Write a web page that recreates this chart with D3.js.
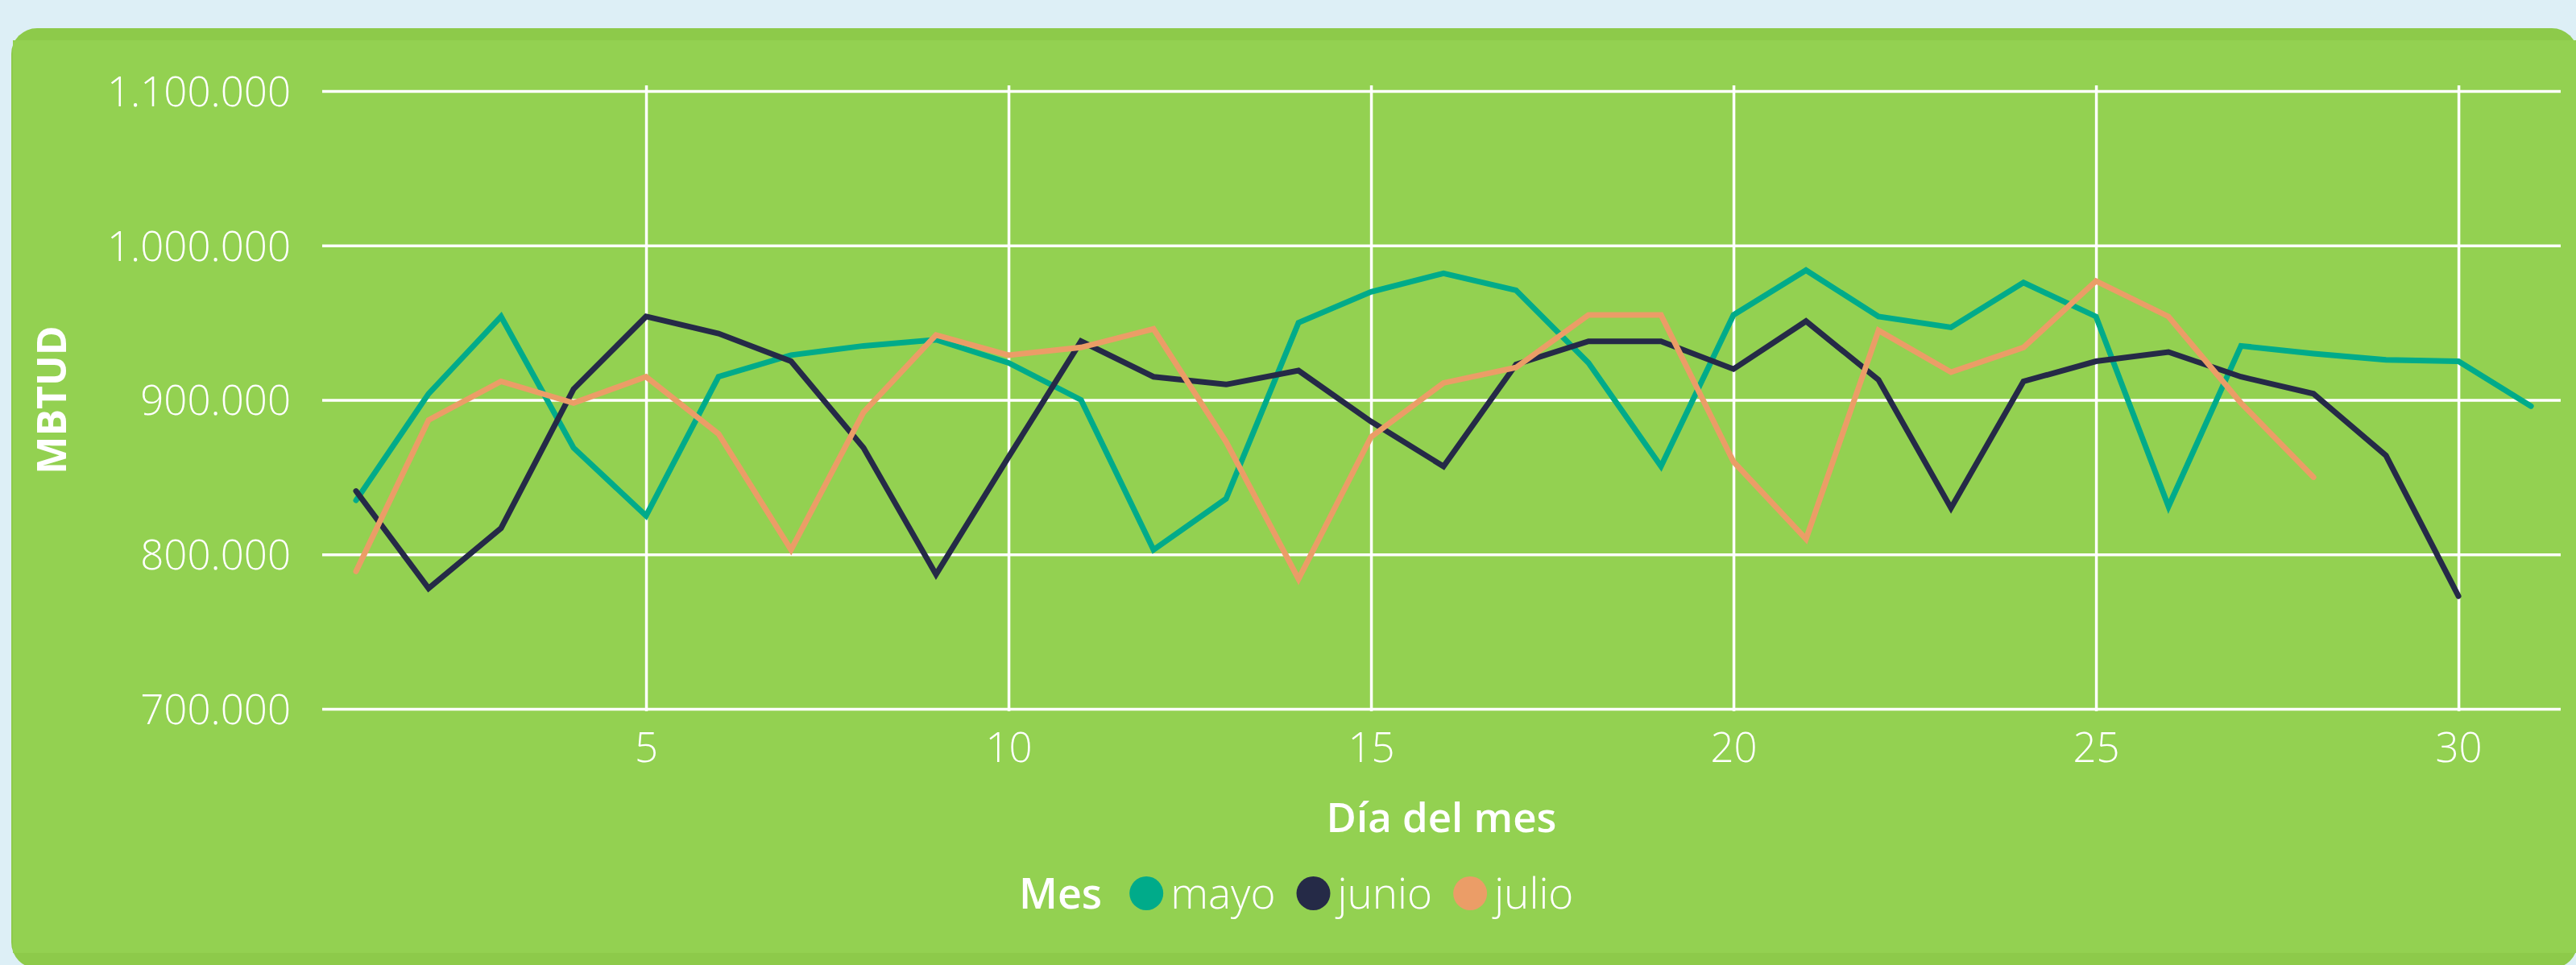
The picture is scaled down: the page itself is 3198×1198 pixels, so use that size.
<!DOCTYPE html>
<html>
<head>
<meta charset="utf-8">
<script src="https://cdn.jsdelivr.net/npm/d3@7"></script>
<style>
  html, body { margin: 0; padding: 0; background: #ddeff6; }
  svg { display: block; font-family: "Segoe UI", "Open Sans", sans-serif; }
</style>
</head>
<body>
<div id="wrapper"></div>
<script>
// days of the month
const dias = [1, 2, 3, 4, 5, 6, 7, 8, 9, 10, 11, 12, 13, 14, 15, 16, 17, 18, 19, 20,
  21, 22, 23, 24, 25, 26, 27, 28, 29, 30, 31];

// MBTUD per day
const mayo = [835000, 904000, 954000, 869000, 825000, 915000, 929000, 935000, 939000, 924000,
  900000, 803000, 836000, 950000, 970000, 982000, 971000, 924000, 857000, 955000,
  984000, 954000, 947000, 976000, 954000, 831000, 935000, 930000, 926000, 925000, 896000];
const junio = [841000, 778000, 817000, 907000, 954000, 943000, 925000, 869000, 787000, 863000,
  938000, 915000, 910000, 919000, 886000, 857000, 923000, 938000, 938000, 920000,
  951000, 913000, 830000, 912000, 925000, 931000, 915000, 904000, 864000, 773000];
const julio = [789000, 887000, 912000, 898000, 915000, 878000, 803000, 892000, 942000, 929000,
  934000, 946000, 873000, 784000, 876000, 911000, 921000, 955000, 955000, 860000,
  810000, 945000, 918000, 934000, 977000, 954000, 898000, 850000];

const meses = [`mayo`, `junio`, `julio`];
const colores = [`#00ab8a`, `#252a47`, `#eb9d67`];
const yTicks = [700000, 800000, 900000, 1000000, 1100000];
const xTicks = [5, 10, 15, 20, 25, 30];

const series = [mayo, junio, julio].map((vals, i) => ({
  mes: meses[i],
  color: colores[i],
  values: vals.map((v, j) => ({dia: dias[j], v}))
}));

const W = 3198, H = 1198;
const plot = {left: 400, right: 3179, top: 113, bottom: 880};
const fontFam = `"Segoe UI", "Open Sans", sans-serif`;

const svg = d3.select(`#wrapper`)
  .append(`svg`)
  .attr(`width`, W)
  .attr(`height`, H);

// card
svg.append(`rect`)
  .attr(`x`, 14).attr(`y`, 35)
  .attr(`width`, W - 14 + 2).attr(`height`, H - 35 + 4)
  .attr(`rx`, 32)
  .attr(`fill`, `#8dca4a`);
svg.append(`rect`)
  .attr(`x`, 16).attr(`y`, 50)
  .attr(`width`, W - 16).attr(`height`, 1133)
  .attr(`fill`, `#93d151`);

const fmt = d3.formatLocale({decimal: `,`, thousands: `.`, grouping: [3], currency: [``, ``]}).format(`,d`);

const x = d3.scaleLinear()
  .domain([0.533, 31.41])
  .range([plot.left, plot.right]);

const y = d3.scaleLinear()
  .domain([700000, 1100000])
  .range([plot.bottom, plot.top]);

// y axis + horizontal grid
const yAxis = svg.append(`g`)
  .attr(`transform`, `translate(${plot.left}, 0)`)
  .call(d3.axisLeft(y).tickValues(yTicks).tickFormat(fmt)
    .tickSize(-(plot.right - plot.left)).tickPadding(39));

// x axis + vertical grid
const xAxis = svg.append(`g`)
  .attr(`transform`, `translate(0, ${plot.bottom + 3})`)
  .call(d3.axisBottom(x).tickValues(xTicks)
    .tickSize(-(plot.bottom + 3 - 106)).tickPadding(27));

[xAxis, yAxis].forEach(ax => {
  ax.attr(`font-family`, fontFam).attr(`font-size`, 51);
  ax.select(`.domain`).remove();
  ax.selectAll(`line`).attr(`stroke`, `#ffffff`).attr(`stroke-width`, 3.5);
  ax.selectAll(`text`)
    .attr(`fill`, `#ffffff`)
    .style(`font-weight`, 300);
});
yAxis.selectAll(`text`).attr(`dy`, `0.36em`);

// lines
const line = d3.line()
  .x(d => x(d.dia))
  .y(d => y(d.v));

svg.append(`g`)
  .selectAll(`path`)
  .data(series)
  .join(`path`)
  .attr(`d`, d => line(d.values))
  .attr(`fill`, `none`)
  .attr(`stroke`, d => d.color)
  .attr(`stroke-width`, 7)
  .attr(`stroke-linecap`, `round`);

// axis titles
svg.append(`text`)
  .attr(`x`, (plot.left + plot.right) / 2)
  .attr(`y`, 1033)
  .attr(`text-anchor`, `middle`)
  .attr(`fill`, `#ffffff`)
  .style(`font-size`, `51px`)
  .style(`font-weight`, 600)
  .text(`Día del mes`);

svg.append(`text`)
  .attr(`transform`, `translate(82, ${(plot.top + plot.bottom) / 2}) rotate(-90)`)
  .attr(`text-anchor`, `middle`)
  .attr(`fill`, `#ffffff`)
  .style(`font-size`, `50px`)
  .style(`font-weight`, 700)
  .text(`MBTUD`);

// legend
const legend = svg.append(`g`).attr(`transform`, `translate(1265, 1128)`);
const title = legend.append(`text`)
  .attr(`fill`, `#ffffff`)
  .style(`font-size`, `52px`)
  .style(`font-weight`, 600)
  .text(`Mes`);

let cx = title.node().getComputedTextLength() + 34;
series.forEach(s => {
  legend.append(`circle`)
    .attr(`cx`, cx + 21)
    .attr(`cy`, -19)
    .attr(`r`, 21)
    .attr(`fill`, s.color);
  const t = legend.append(`text`)
    .attr(`x`, cx + 51)
    .attr(`fill`, `#ffffff`)
    .style(`font-size`, `53px`)
    .style(`font-weight`, 300)
    .text(s.mes);
  cx += 51 + t.node().getComputedTextLength() + 26;
});
</script>
</body>
</html>
